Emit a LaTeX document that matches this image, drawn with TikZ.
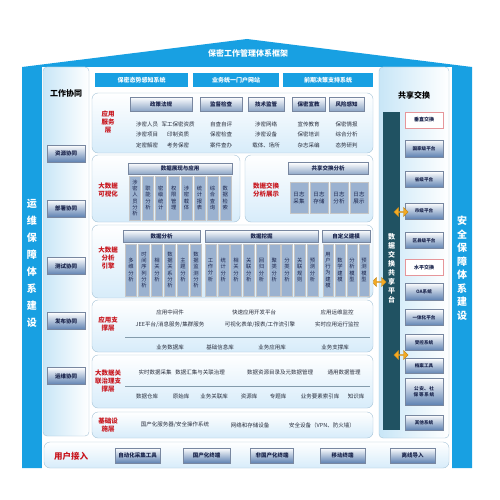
\documentclass[tikz,border=0pt]{standalone}
\usepackage{fontspec}
\setmainfont{Noto Sans CJK SC}
\usetikzlibrary{shapes.arrows}
\XeTeXlinebreaklocale "zh"
\XeTeXlinebreakskip=0pt plus 1pt

\definecolor{skyb}{RGB}{24,160,226}
\definecolor{panelline}{RGB}{165,195,215}
\definecolor{panelfill}{RGB}{200,230,247}
\definecolor{tierfill}{RGB}{215,236,250}
\definecolor{headblue}{RGB}{140,165,198}
\definecolor{headline}{RGB}{120,135,160}
\definecolor{navy}{RGB}{25,35,75}
\definecolor{barblue}{RGB}{155,178,208}
\definecolor{btnblue}{RGB}{95,130,178}
\definecolor{tealbar}{RGB}{32,82,98}
\definecolor{tagred}{RGB}{200,22,30}
\definecolor{arrowor}{RGB}{244,170,35}
\definecolor{inktext}{RGB}{40,45,60}
\colorlet{barline}{gray!45}

\newcommand\fsz[2]{\fontsize{#1}{#2}\selectfont}

\tikzset{
  housefill/.style={fill=skyb},
  maintitle/.style={text=white,font=\fsz{8}{9}\bfseries},
  topbox/.style={fill=skyb,text=white,font=\fsz{6}{7}\bfseries,minimum height=14,inner sep=0},
  sidepanel/.style={draw=panelline,rounded corners=4,left color=panelfill,right color=white,inner sep=0},
  sidehead/.style={text=black,font=\fsz{8}{9}\bfseries},
  tier/.style={draw=panelline,rounded corners=6,top color=white,bottom color=tierfill,inner sep=0},
  tierlabel/.style={text=tagred,font=\fsz{6.5}{8}\bfseries,align=center,inner sep=0},
  colhead/.style={draw=headline,top color=white,bottom color=headblue,text=navy,font=\fsz{5.5}{6.5}\bfseries,inner sep=0},
  entry/.style={text=inktext,font=\fsz{5.5}{6.5},inner sep=0.5},
  vbar/.style={draw=barline,left color=barblue,middle color=white,right color=barblue,text=navy,
    font=\fsz{5.3}{6.3},text width=5.6,align=center,inner sep=0,minimum width=11},
  btn/.style={draw=headline,top color=white,bottom color=btnblue,text=navy,font=\fsz{5.5}{6.5}\bfseries,inner sep=0,minimum height=15},
  xbox/.style={draw=headline,top color=white,bottom color=btnblue,text=navy,font=\fsz{4.6}{5.6}\bfseries,inner sep=0,minimum width=38},
  swbox/.style={draw=tagred!45,fill=white,text=navy,font=\fsz{5}{6}\bfseries,inner sep=0,minimum width=38,minimum height=16},
  xarrow/.style={double arrow,fill=arrowor,draw=arrowor!80!black,minimum height=14,minimum width=9,double arrow head extend=1.5,inner sep=0},
  sidetext/.style={text=white,font=\fsz{10}{17}\bfseries,text width=10.5,align=center,inner sep=0},
  septr/.style={draw=panelline!80!black,line width=0.5}
}

\begin{document}
\begin{tikzpicture}[x=1pt,y=-1pt]
\useasboundingbox (0,0) rectangle (500,500);

\fill[housefill] (22,468) -- (22,67) -- (247,39) -- (472,67) -- (472,468) -- cycle;
\fill[white] (42,67) rectangle (452,472);
\node[maintitle] (ttl) at (248,53) {保密工作管理体系框架};
\node[sidetext] (ops) at (32,263) {运维保障体系建设};
\node[sidetext,font=\fsz{10}{13.5}\bfseries] (sec) at (462,268) {安全保障体系建设};

\node[topbox,minimum width=93] (tb1) at (141.5,80) {保密态势感知系统};
\node[topbox,minimum width=86] (tb2) at (236,80) {业务统一门户网站};
\node[topbox,minimum width=90] (tb3) at (328,80) {前期决策支持系统};

% work coordination
\node[sidepanel,minimum width=46,minimum height=369] (lp) at (66,251.5) {};
\node[sidehead] (lph) at (66,93) {工作协同};
\foreach \t/\y [count=\i] in {资源协同/153.5,部署协同/208.5,测试协同/266,发布协同/321,运维协同/376}
  \node[btn,minimum width=38,minimum height=17] (wc\i) at (66,\y) {\t};

% shared exchange
\node[sidepanel,minimum width=70,minimum height=371] (rp) at (414,252.5) {};
\node[sidehead] (rph) at (414,95) {共享交换};
\node[fill=tealbar,minimum width=17,minimum height=318,inner sep=0] (bus) at (391.5,271) {};
\node[text=white,font=\fsz{7}{9}\bfseries,text width=7.5,align=center,inner sep=0] (bust) at (391.5,268) {数据交换共享平台};
\node[swbox] (vx) at (424,120) {垂直交换};
\node[swbox] (hx) at (424,267.5) {水平交换};
\foreach \t/\y/\h [count=\i] in {国家级平台/148.5/17,省级平台/179.5/16,市级平台/211/16,区县级平台/240.5/16,
    OA系统/291.5/17,一体化平台/317.5/16,受控系统/342.5/16,档案工具/366/15,其他系统/422.5/15}
  \node[xbox,minimum height=\h] (xb\i) at (424,\y) {\t};
\node[xbox,minimum height=27,text width=34,align=center] (xb10) at (424,391.5) {公安、社保等系统};
\node[xarrow] (xa1) at (401,212) {};
\node[xarrow] (xa2) at (379,282) {};
\node[xarrow] (xa3) at (401,355) {};

% application service tier
\node[tier,minimum width=281,minimum height=60] (t1) at (232.5,123) {};
\node[tierlabel] (t1l) at (108,122) {应用\\服务\\层};
\node[colhead,minimum width=62,minimum height=14] (h11) at (161,104) {政策法规};
\node[colhead,minimum width=42,minimum height=14] (h12) at (221,104) {监督检查};
\node[colhead,minimum width=36,minimum height=14] (h13) at (266,104) {技术监管};
\node[colhead,minimum width=33,minimum height=14] (h14) at (308.5,104) {保密宣教};
\node[colhead,minimum width=35,minimum height=14] (h15) at (346.5,104) {风险感知};
\foreach \x/\a/\b/\c [count=\i] in {147/涉密人员/涉密项目/定密解密,178/军工保密资质/印制资质/考务保密,
    221/自查自评/保密检查/案件查办,266/涉密网络/涉密设备/载体、场所,308.5/宣传教育/保密培训/杂志采编,
    346.5/保密情报/综合分析/态势研判}{
  \node[entry] (e\i a) at (\x,124) {\a};
  \node[entry] (e\i b) at (\x,134.5) {\b};
  \node[entry] (e\i c) at (\x,145) {\c};
}

% visualization
\node[tier,minimum width=148,minimum height=67] (t2) at (166,188.5) {};
\node[tierlabel] (t2l) at (108,190) {大数据\\可视化};
\node[colhead,minimum width=104,minimum height=11] (h21) at (180,168.5) {数据展现与应用};
\foreach \t [count=\i] in {涉密人员分析,职能分析,密级统计,权限管理,涉密载体,统计报表,综合查询,数据检索}
  \node[vbar,minimum height=44] (v2\i) at ({135+12.9*(\i-1)},198) {\t};

% exchange analysis
\node[tier,minimum width=128,minimum height=67] (t3) at (309,188.5) {};
\node[tierlabel] (t3l) at (266,190) {数据交换\\分析展示};
\node[colhead,minimum width=80,minimum height=12] (h31) at (328,168.5) {共享交换分析};
\foreach \t [count=\i] in {日志采集,日志存储,日志分析,日志展示}
  \node[vbar,minimum width=18,minimum height=31,text width=11.5,font=\fsz{5.5}{7}] (v3\i) at ({299+20*(\i-1)},197.5) {\t};

% analysis engine
\node[tier,minimum width=281,minimum height=73] (t4) at (232.5,261.5) {};
\node[tierlabel] (t4l) at (108,258) {大数据\\分析\\引擎};
\node[colhead,minimum width=77,minimum height=12] (h41) at (161.5,236) {数据分析};
\node[colhead,minimum width=113,minimum height=12] (h42) at (261.5,236) {数据挖掘};
\node[colhead,minimum width=48,minimum height=12] (h43) at (346,236) {自定义建模};
\foreach \t [count=\i] in {多维分析,时间序列分析,相关分析,数据关系分析,主题分析,数据监测分析}
  \node[vbar,minimum height=52] (v4a\i) at ({131+13*(\i-1)},270) {\t};
\foreach \t [count=\i] in {工作分析,统计分析,相关分析,关联分析,回归分析,聚类分析,分类分析,关联规则,预测分析}
  \node[vbar,minimum height=52] (v4b\i) at ({210.5+12.75*(\i-1)},270) {\t};
\foreach \t [count=\i] in {用户行为建模,数学建模,分析模型,预测模型}
  \node[vbar,minimum width=10,minimum height=52] (v4c\i) at ({328+12*(\i-1)},270) {\t};

% application support
\node[tier,minimum width=281,minimum height=52] (t5) at (232.5,326) {};
\node[tierlabel] (t5l) at (108,324) {应用支\\撑层};
\node[entry] (e51) at (170,312.5) {应用中间件};
\node[entry] (e52) at (254,312.5) {快速应用开发平台};
\node[entry] (e53) at (337,312.5) {应用运维监控};
\node[entry] (e54) at (170,324.5) {JEE平台/消息服务/集群服务};
\node[entry] (e55) at (260,324.5) {可视化表单/报表/工作流引擎};
\node[entry] (e56) at (337,324.5) {实时应用运行监控};
\draw[septr] (125,337) -- (370,337);
\node[entry] (e57) at (170,347.5) {业务数据库};
\node[entry] (e58) at (220,347.5) {基础信息库};
\node[entry] (e59) at (272,347.5) {业务应用库};
\node[entry] (e510) at (335,347.5) {业务支撑库};

% data governance
\node[tier,minimum width=281,minimum height=53] (t6) at (232.5,381.5) {};
\node[tierlabel] (t6l) at (108,381) {大数据关\\联治理支\\撑层};
\node[entry] (e61) at (155,372) {实时数据采集};
\node[entry] (e62) at (200,372) {数据汇集与关联治理};
\node[entry] (e63) at (280,372) {数据资源目录及元数据管理};
\node[entry] (e64) at (344,372) {通用数据管理};
\draw[septr] (125,386) -- (370,386);
\foreach \t/\x [count=\i] in {数据仓库/147,原始库/181,业务关联库/214,资源库/249,专题库/278,业务要素索引库/320,知识库/356}
  \node[entry] (e7\i) at (\x,396) {\t};

% infrastructure
\node[tier,minimum width=281,minimum height=26] (t7) at (232.5,425) {};
\node[tierlabel] (t7l) at (108,425) {基础设\\施层};
\node[entry] (e81) at (175,425) {国产化服务器/安全操作系统};
\node[entry] (e82) at (250,425) {网络和存储设备};
\node[entry] (e83) at (322,425) {安全设备（VPN、防火墙）};

% user access
\node[tier,minimum width=405,minimum height=26] (t8) at (246.5,455) {};
\node[tierlabel,font=\fsz{8.5}{10}\bfseries] (t8l) at (71,456) {用户接入};
\foreach \t/\x/\w [count=\i] in {自动化采集工具/137.5/45,国产化终端/206.5/47,非国产化终端/272/43,移动终端/342.5/45,离线导入/412.5/45}
  \node[btn,minimum width=\w] (ua\i) at (\x,455.5) {\t};
\end{tikzpicture}
\end{document}
